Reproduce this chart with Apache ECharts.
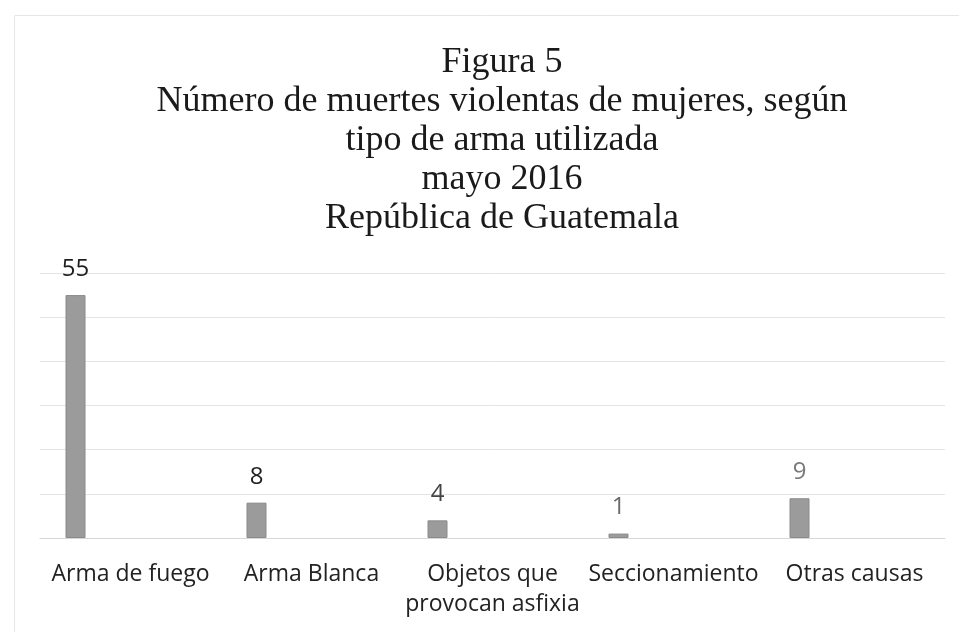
<!DOCTYPE html>
<html>
<head>
<meta charset="utf-8">
<script src="https://cdn.jsdelivr.net/npm/echarts@6/dist/echarts.min.js"></script>
<style>
html,body{margin:0;padding:0;background:#fff;}
#chart{width:959px;height:632px;}
</style>
</head>
<body>
<div id="chart"></div>
<script>
const titleLines = ['Figura 5', 'Número de muertes violentas de mujeres, según', 'tipo de arma utilizada', 'mayo 2016', 'República de Guatemala'];
const categories = ['Arma de fuego', 'Arma Blanca', 'Objetos que\nprovocan asfixia', 'Seccionamiento', 'Otras causas'];
const deaths = [55, 8, 4, 1, 9];
const emptySeriesA = [];
const emptySeriesB = [];
const yTicks = {min: 0, max: 60, interval: 10};
const labelColors = ['#1e1e1e', '#222222', '#444444', '#6a6a6a', '#7a7a7a'];

const chart = echarts.init(document.getElementById('chart'));
chart.setOption({
  animation: false,
  backgroundColor: '#ffffff',
  graphic: [{
    type: 'rect', left: 12, top: 13,
    shape: {width: 1000, height: 700},
    style: {fill: 'none', stroke: '#e6e6e6', lineWidth: 1}
  }, {
    type: 'text', x: 502, y: 43,
    style: {
      text: titleLines.join('\n'),
      align: 'center', verticalAlign: 'top',
      font: 'normal 36px "Liberation Serif"',
      lineHeight: 39,
      fill: '#1a1a1a'
    }
  }],
  grid: {left: 40, right: 14, top: 273, bottom: 94, containLabel: false},
  xAxis: {
    type: 'category',
    data: categories,
    axisTick: {show: false},
    axisLine: {lineStyle: {color: '#d6d6d6', width: 1}},
    axisLabel: {interval: 0, margin: 21, fontFamily: 'Open Sans', fontSize: 23, color: '#222', lineHeight: 30}
  },
  yAxis: {
    type: 'value',
    min: yTicks.min, max: yTicks.max, interval: yTicks.interval,
    axisLabel: {show: false},
    axisLine: {show: false},
    axisTick: {show: false},
    splitLine: {lineStyle: {color: '#e4e4e4', width: 1}}
  },
  series: [
    {
      type: 'bar',
      data: deaths.map((v, i) => ({value: v, label: {color: labelColors[i]}})),
      barWidth: 20,
      barGap: '175%',
      itemStyle: {color: '#9b9b9b', borderColor: '#8a8a8a', borderWidth: 1},
      label: {show: true, position: 'top', distance: 14, fontFamily: 'Open Sans', fontSize: 24}
    },
    {type: 'bar', data: emptySeriesA, barWidth: 20, barGap: '175%'},
    {type: 'bar', data: emptySeriesB, barWidth: 20, barGap: '175%'}
  ]
});
</script>
</body>
</html>
